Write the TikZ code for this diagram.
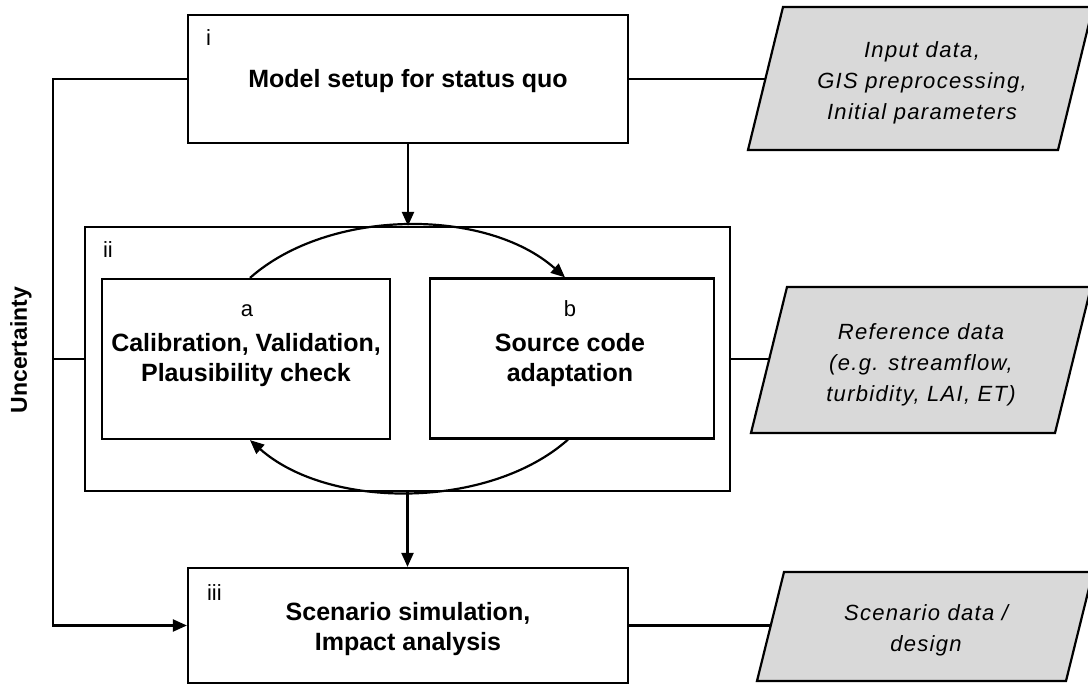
\documentclass[tikz,border=0pt]{standalone}
\usepackage{fontspec}
\setmainfont{Liberation Sans}
\newfontfamily\spacedsans{Liberation Sans}[LetterSpace=6]
\usetikzlibrary{arrows.meta,calc}
\definecolor{datagray}{HTML}{D9D9D9}

\begin{document}
\begin{tikzpicture}[x=1pt,y=-1pt,
  line width=2.2pt,
  box/.style={draw, rectangle, inner sep=0pt},
  tag/.style={font=\fontsize{22}{26}\selectfont, inner sep=0pt},
  stage/.style={font=\fontsize{25}{30}\selectfont\bfseries, align=center, inner sep=0pt},
  datatext/.style={font=\fontsize{22}{31}\selectfont\spacedsans\itshape, align=center, inner sep=0pt},
  datashape/.style={draw, fill=datagray, line join=miter},
  arr/.style={-{Triangle[length=14pt,width=12pt]}},
]
\useasboundingbox (0,0) rectangle (1088,684);

% process boxes
\node[box, minimum width=440pt, minimum height=128pt] (i) at (408,79) {};
\node[box, minimum width=645pt, minimum height=264pt] (ii) at (407.5,359) {};
\node[box, minimum width=288pt, minimum height=160pt] (a) at (246,359) {};
\node[box, minimum width=284pt, minimum height=160pt] (b) at (572,358.5) {};
\node[box, minimum width=440pt, minimum height=115pt] (iii) at (408,625.5) {};

% step numbers
\node[tag, anchor=base west] (tag-i) at ($(i.north west)+(18,32)$) {i};
\node[tag, anchor=base west] (tag-ii) at ($(ii.north west)+(18,32)$) {ii};
\node[tag, anchor=base west] (tag-iii) at ($(iii.north west)+(19,34)$) {iii};
\node[tag, anchor=base] (tag-a) at ($(a.north)+(1,39)$) {a};
\node[tag, anchor=base] (tag-b) at ($(b.north)+(-2,39)$) {b};

% step titles
\node[stage, anchor=base] (ttl-i) at (408,88) {Model setup for status quo};
\node[stage] (ttl-a) at (246,360) {Calibration, Validation,\\Plausibility check};
\node[stage] (ttl-b) at (570,360) {Source code\\adaptation};
\node[stage] (ttl-iii) at (408,629.5) {Scenario simulation,\\Impact analysis};

% side label
\node[font=\fontsize{23}{28}\selectfont\bfseries, rotate=90, inner sep=0pt] (unc) at (21,350) {Uncertainty};

% data sources
\draw[datashape] (783,7) -- (1093,7) -- (1058,150) -- (748,150) -- cycle;
\node[datatext] (d1) at (922,82.8) {Input data,\\GIS preprocessing,\\Initial parameters};
\coordinate (d1w) at (765.4,79);

\draw[datashape] (787,287) -- (1091,287) -- (1055,433) -- (751,433) -- cycle;
\node[datatext] (d2) at (921,365) {Reference data\\(e.g. streamflow,\\turbidity, LAI, ET)};
\coordinate (d2w) at (769.2,359);

\draw[datashape] (784,572) -- (1093,572) -- (1066,681) -- (757,681) -- cycle;
\node[datatext] (d3) at (926,630) {Scenario data /\\design};
\coordinate (d3w) at (770.6,625.5);

% data links
\draw (i.east) -- (d1w);
\draw (ii.east) -- (d2w);
\draw (iii.east) -- (d3w);

% main flow
\draw[arr] (i.south) -- (i.south |- ii.north);
\draw[arr] (ii.south) -- (ii.south |- iii.north);

% uncertainty rail
\coordinate (rail) at (53,359);
\draw[arr] (i.west) -| (rail) |- (iii.west);
\draw (rail) -- (ii.west);

% iteration loop between a and b
\draw[arr] ($(a.north)+(4,0)$) .. controls +(79,-70) and +(-79,-70) .. ($(b.north)+(-7,0)$);
\draw[arr] ($(b.south)+(-4,0)$) .. controls +(-79,70) and +(79,70) .. ($(a.south)+(4,0)$);
\end{tikzpicture}
\end{document}
